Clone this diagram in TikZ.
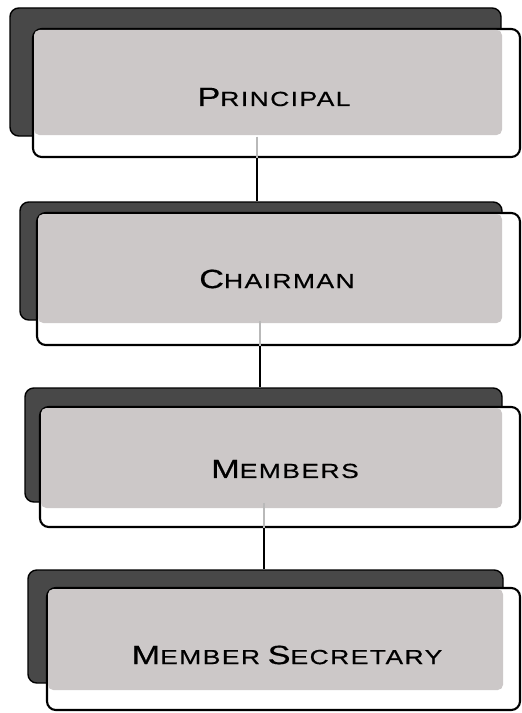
\documentclass[tikz,border=0pt]{standalone}
\usepackage{fontspec}
\setmainfont{Liberation Sans}[FakeStretch=1.3,LetterSpace=7,FakeBold=0.5]
\usepackage{xcolor}
\usetikzlibrary{fit,positioning}

\definecolor{backgray}{RGB}{72,72,72}
\definecolor{panelgray}{RGB}{204,200,200}
\definecolor{faintline}{RGB}{185,185,185}

% fake small caps: big initial, smaller capitals after it
\newcommand{\capword}[2]{{\fontsize{15}{18}\selectfont #1}{\fontsize{11.6}{18}\selectfont #2}}

\begin{document}
\begin{tikzpicture}[
    x=0.02cm, y=-0.02cm,
    backbox/.style={rectangle, draw=black, fill=backgray, line width=0.8pt, rounded corners=5pt, inner sep=0pt},
    frame/.style={rectangle, draw=black, fill=white, line width=1.2pt, rounded corners=5pt, inner sep=0pt},
    panel/.style={rectangle, fill=panelgray, rounded corners=3pt, inner sep=0pt},
    title/.style={text=black, inner sep=0pt, anchor=center},
    link/.style={draw=black, line width=1.6pt},
    faint/.style={draw=faintline, line width=1.6pt}
]
\useasboundingbox (0,0) rectangle (521,713);

% Principal
\node[backbox, fit={(10,8) (501,136)}] (back1) {};
\node[frame, fit={(33,29) (520,157)}] (frame1) {};
\node[panel, fit={(34,30) (502,135)}] (panel1) {};
\node[title] (principal) at (274,97) {\capword{P}{RINCIPAL}};

% Chairman
\node[backbox, fit={(20,202) (502,320)}] (back2) {};
\node[frame, fit={(37,213) (520,345)}] (frame2) {};
\node[panel, fit={(38,214) (502,323)}] (panel2) {};
\node[title] (chairman) at (277,279) {\capword{C}{HAIRMAN}};

% Members
\node[backbox, fit={(25,388) (502,502)}] (back3) {};
\node[frame, fit={(40,407) (520,527)}] (frame3) {};
\node[panel, fit={(41,408) (502,508)}] (panel3) {};
\node[title] (members) at (285,469) {\capword{M}{EMBERS}};

% Member Secretary
\node[backbox, fit={(28,570) (503,683)}] (back4) {};
\node[frame, fit={(47,588) (520,710)}] (frame4) {};
\node[panel, fit={(48,589) (503,690)}] (panel4) {};
\node[title] (secretary) at (287,655) {\capword{M}{EMBER} \capword{S}{ECRETARY}};

% connectors
\draw[faint] (back1.south -| 257,0) -- (frame1.south -| 257,0);
\draw[link] (frame1.south -| 257,0) -- (back2.north -| 257,0);
\draw[faint] (back2.south -| 260,0) -- (frame2.south -| 260,0);
\draw[link] (frame2.south -| 260,0) -- (back3.north -| 260,0);
\draw[faint] (back3.south -| 264,0) -- (frame3.south -| 264,0);
\draw[link] (frame3.south -| 264,0) -- (back4.north -| 264,0);
\end{tikzpicture}
\end{document}
